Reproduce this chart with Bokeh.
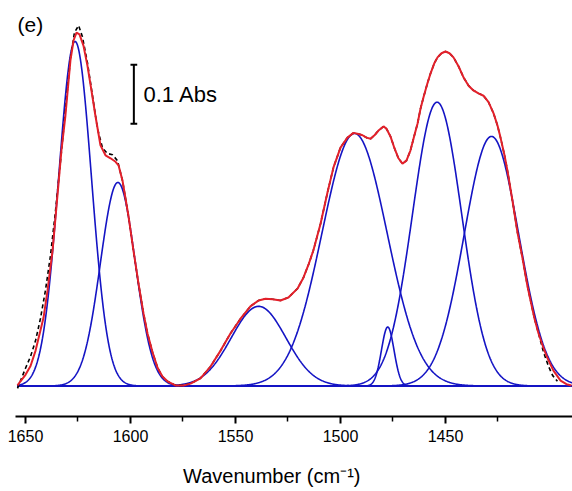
import numpy as np
from bokeh.plotting import figure
from bokeh.models import Range1d, FixedTicker, Label
from bokeh.embed import file_html
from bokeh.resources import INLINE

# ---- fitted Gaussian components (center cm-1, height Abs, sigma cm-1) ----
peak_center = [1626.4, 1606.0, 1539.0, 1493.3, 1477.5, 1454.0, 1428.1]
peak_height = [0.584, 0.345, 0.135, 0.428, 0.100, 0.481, 0.423]
peak_sigma = [7.8, 8.3, 13.0, 15.5, 3.0, 11.7, 13.0]

# ---- cumulative fit (red) ----
fit_wn = [1653.8, 1652.4, 1650.0, 1647.6, 1645.2, 1642.9, 1641.4, 1639.5, 1637.1, 1635.2,
          1632.9, 1631.0, 1628.6, 1627.1, 1625.7, 1624.3, 1622.4, 1620.5, 1618.6, 1616.7,
          1614.3, 1611.9, 1609.5, 1607.1, 1605.7, 1603.8, 1601.0, 1598.6, 1596.2, 1593.8,
          1591.9, 1589.5, 1587.1, 1584.8, 1582.4, 1578.6, 1574.8, 1571.4, 1566.7, 1561.9,
          1557.1, 1552.4, 1547.6, 1542.9, 1539.0, 1535.7, 1532.4, 1528.6, 1524.8, 1520.5,
          1517.6, 1515.2, 1512.9, 1509.5, 1506.2, 1503.3, 1500.0, 1496.7, 1493.8, 1491.4,
          1489.5, 1487.6, 1485.7, 1483.8, 1481.9, 1479.5, 1478.1, 1476.2, 1474.3, 1472.4,
          1470.5, 1468.6, 1466.7, 1464.8, 1463.3, 1461.9, 1460.5, 1458.6, 1457.1, 1455.2,
          1453.8, 1451.9, 1450.0, 1448.1, 1446.2, 1443.8, 1441.4, 1439.0, 1436.7, 1434.3,
          1431.9, 1429.5, 1427.1, 1425.2, 1423.8, 1421.9, 1420.5, 1418.1, 1415.7, 1413.3,
          1411.0, 1409.5, 1407.6, 1405.7, 1403.3, 1401.4, 1398.6, 1395.2, 1392.4, 1390.0]
fit_abs = [0.001, 0.008, 0.019, 0.034, 0.060, 0.094, 0.116, 0.162, 0.230, 0.306,
           0.399, 0.458, 0.552, 0.586, 0.599, 0.596, 0.577, 0.543, 0.501, 0.458,
           0.408, 0.391, 0.386, 0.380, 0.374, 0.348, 0.289, 0.230, 0.174, 0.123,
           0.089, 0.057, 0.031, 0.016, 0.008, 0.001, 0.001, 0.004, 0.013, 0.033,
           0.060, 0.089, 0.114, 0.135, 0.145, 0.148, 0.147, 0.145, 0.150, 0.165,
           0.184, 0.206, 0.230, 0.275, 0.328, 0.371, 0.404, 0.421, 0.429, 0.427,
           0.425, 0.421, 0.419, 0.425, 0.433, 0.440, 0.436, 0.423, 0.403, 0.386,
           0.377, 0.382, 0.399, 0.425, 0.445, 0.470, 0.489, 0.513, 0.530, 0.548,
           0.557, 0.564, 0.567, 0.564, 0.557, 0.542, 0.523, 0.509, 0.501, 0.496,
           0.492, 0.481, 0.462, 0.441, 0.421, 0.391, 0.365, 0.314, 0.260, 0.216,
           0.170, 0.145, 0.114, 0.089, 0.064, 0.047, 0.026, 0.009, 0.003, 0.001]

meas_wn = [1653.8, 1651.9, 1650.0, 1647.6, 1645.2, 1642.9, 1640.5, 1638.1, 1635.7, 1633.3,
           1631.0, 1628.6, 1626.7, 1624.7, 1622.9, 1620.5, 1618.1, 1615.7, 1613.3, 1610.9,
           1608.6, 1606.2, 1603.8, 1601.0, 1598.6, 1596.2, 1593.8, 1591.9, 1589.5, 1587.1,
           1584.8, 1582.4, 1578.6, 1574.8, 1571.4, 1566.7, 1561.9, 1557.1, 1552.4, 1547.6,
           1542.9, 1539.0, 1535.7, 1532.4, 1528.6, 1524.8, 1520.5, 1517.6, 1515.2, 1512.9,
           1509.5, 1506.2, 1503.3, 1500.0, 1496.7, 1493.8, 1491.4, 1489.5, 1487.6, 1485.7,
           1483.8, 1481.9, 1479.5, 1478.1, 1476.2, 1474.3, 1472.4, 1470.5, 1468.6, 1466.7,
           1464.8, 1463.3, 1461.9, 1460.5, 1458.6, 1457.1, 1455.2, 1453.8, 1451.9, 1450.0,
           1448.1, 1446.2, 1443.8, 1441.4, 1439.0, 1436.7, 1434.3, 1431.9, 1429.5, 1427.1,
           1425.2, 1423.8, 1421.9, 1420.5, 1418.1, 1415.7, 1413.3, 1411.0, 1409.5, 1407.6,
           1405.7, 1403.3, 1400.9, 1399.0, 1396.7]
meas_abs = [-0.004, 0.013, 0.030, 0.050, 0.077, 0.114, 0.162, 0.221, 0.297, 0.382,
            0.467, 0.555, 0.599, 0.611, 0.592, 0.548, 0.492, 0.436, 0.403, 0.394,
            0.392, 0.382, 0.348, 0.289, 0.230, 0.174, 0.123, 0.089, 0.057, 0.031,
            0.016, 0.008, 0.001, 0.001, 0.004, 0.013, 0.033, 0.060, 0.089, 0.114,
            0.135, 0.145, 0.148, 0.147, 0.145, 0.150, 0.165, 0.184, 0.206, 0.230,
            0.275, 0.328, 0.371, 0.404, 0.421, 0.429, 0.427, 0.425, 0.421, 0.419,
            0.425, 0.433, 0.440, 0.436, 0.423, 0.403, 0.386, 0.377, 0.382, 0.399,
            0.425, 0.445, 0.470, 0.489, 0.513, 0.530, 0.548, 0.557, 0.564, 0.567,
            0.564, 0.557, 0.542, 0.523, 0.509, 0.501, 0.496, 0.492, 0.481, 0.462,
            0.441, 0.421, 0.391, 0.365, 0.314, 0.260, 0.216, 0.170, 0.145, 0.114,
            0.089, 0.057, 0.033, 0.018, 0.008]

major_ticks = [1650, 1600, 1550, 1500, 1450]
minor_ticks = [1625, 1575, 1525, 1475, 1425]
scale_bar_abs = 0.1

FONT = "Liberation Sans"
BLUE = "#1414c4"
RED = "#e3202a"

p = figure(width=572, height=491,
           x_range=Range1d(1654.76, 1389.52), y_range=Range1d(-0.0517, 0.6534),
           output_backend="svg", toolbar_location=None, y_axis_location=None,
           min_border_left=15, min_border_right=0, min_border_top=0, min_border_bottom=75)
p.outline_line_color = None
p.xgrid.visible = False
p.ygrid.visible = False
p.background_fill_color = "white"
p.border_fill_color = "white"

# components (evaluated on a fine grid from the fitted parameters)
grid = np.linspace(1653.8, 1389.52, 1200)
for c, h, s in zip(peak_center, peak_height, peak_sigma):
    yv = h * np.exp(-((grid - c) ** 2) / (2 * s ** 2))
    p.line(grid, yv, line_color=BLUE, line_width=1.6)

p.line(meas_wn, meas_abs, line_color="black", line_width=1.6, line_dash="4 3")
p.line(fit_wn, fit_abs, line_color=RED, line_width=2)

# scale bar 0.1 Abs
sb_x = 1598.4
sb_top = 0.5444
p.segment(x0=[sb_x], y0=[sb_top - scale_bar_abs], x1=[sb_x], y1=[sb_top],
          line_color="black", line_width=2)
p.segment(x0=[sb_x + 1.6, sb_x + 1.6], y0=[sb_top, sb_top - scale_bar_abs],
          x1=[sb_x - 1.6, sb_x - 1.6], y1=[sb_top, sb_top - scale_bar_abs],
          line_color="black", line_width=2)
p.add_layout(Label(x=1593.8, y=0.494, text="0.1 Abs", text_font=FONT,
                   text_font_size="22px", text_baseline="middle", text_align="left",
                   text_color="black"))
p.add_layout(Label(x=1653.8, y=0.612, text="(e)", text_font=FONT,
                   text_font_size="21px", text_baseline="middle", text_align="left",
                   text_color="black"))

ax = p.xaxis[0]
ax.ticker = FixedTicker(ticks=major_ticks, minor_ticks=minor_ticks)
ax.axis_line_width = 2
ax.axis_line_color = "black"
ax.major_tick_line_width = 2
ax.minor_tick_line_width = 1.5
ax.major_tick_in = 0
ax.major_tick_out = 7
ax.minor_tick_in = 0
ax.minor_tick_out = 5
ax.major_label_text_font = FONT
ax.major_label_text_font_size = "16px"
ax.major_label_text_color = "black"
ax.major_label_standoff = 6
# trailing no-break spaces shift the title left, as in the cropped original
ax.axis_label = "Wavenumber (cm\u207b\u00b9)" + "\u00a0" * 8
ax.axis_label_text_font = FONT
ax.axis_label_text_font_size = "20px"
ax.axis_label_text_font_style = "normal"
ax.axis_label_text_color = "black"
ax.axis_label_standoff = 20

open("out.html", "w").write(file_html(p, INLINE))
